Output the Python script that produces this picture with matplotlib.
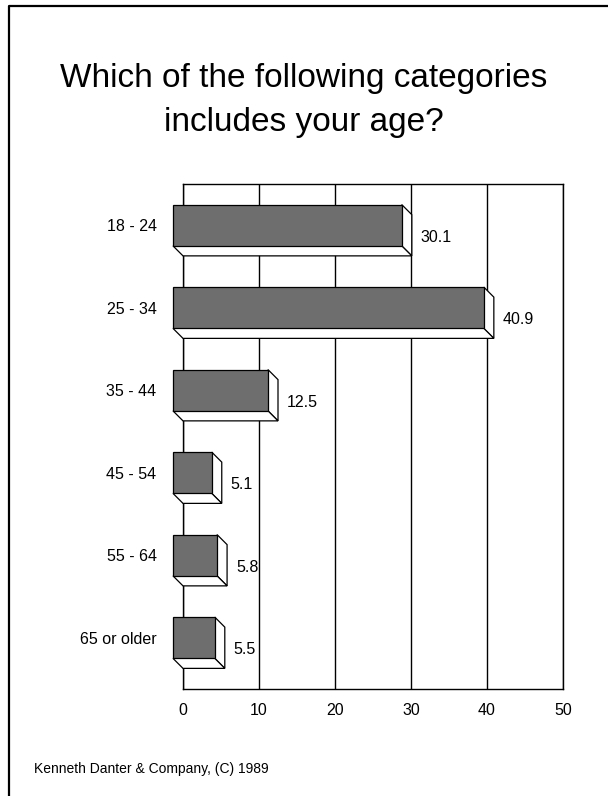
"""Horizontal 3-D style bar chart of survey respondents by age group."""
import matplotlib
matplotlib.use("Agg")
import matplotlib.pyplot as plt
from matplotlib.patches import Polygon
from matplotlib.lines import Line2D

plt.rcParams["font.family"] = ["Liberation Sans", "DejaVu Sans"]

categories = ["18 - 24", "25 - 34", "35 - 44", "45 - 54", "55 - 64", "65 or older"]
values = [30.1, 40.9, 12.5, 5.1, 5.8, 5.5]
x_ticks = [0, 10, 20, 30, 40, 50]

TITLE_1 = "Which of the following categories"
TITLE_2 = "includes your age?"
FOOTER = "Kenneth Danter & Company, (C) 1989"

FACE = "#6e6e6e"
W, H = 608, 796
DEPTH_PX = 10
BAR_H = 0.5


def main() -> None:
    fig = plt.figure(figsize=(W / 100, H / 100), dpi=100)
    ax = fig.add_axes([183 / W, (H - 689) / H, (563 - 183) / W, (689 - 184) / H])

    # depth offset of the bars, converted from pixels to data units
    dx = DEPTH_PX / (380 / (x_ticks[-1] - x_ticks[0]))
    dy = DEPTH_PX / ((689 - 184 - DEPTH_PX) / len(categories))

    ax.set_xlim(x_ticks[0], x_ticks[-1])
    ax.set_ylim(len(categories) - 0.5, -0.5 - dy)
    ax.set_xticks(x_ticks)
    ax.set_yticks([i - dy for i in range(len(categories))])
    ax.set_yticklabels(categories)
    ax.tick_params(length=0, labelsize=11.5, colors="black")
    ax.tick_params(axis="x", pad=10)
    ax.tick_params(axis="y", pad=19)
    for s in ax.spines.values():
        s.set_linewidth(1)
        s.set_color("black")
    for t in x_ticks:
        ax.axvline(t, color="black", lw=1, zorder=1)

    for i, v in enumerate(values):
        top, bot = i - BAR_H / 2 - dy, i + BAR_H / 2 - dy
        left, right = -dx, v - dx
        side = Polygon([(right, top), (right + dx, top + dy), (right + dx, bot + dy), (right, bot)],
                       closed=True, facecolor="white", edgecolor="black", lw=0.9,
                       zorder=4, clip_on=False)
        floor = Polygon([(left, bot), (right, bot), (right + dx, bot + dy), (left + dx, bot + dy)],
                        closed=True, facecolor="white", edgecolor="black", lw=0.9,
                        zorder=4, clip_on=False)
        ax.add_patch(side)
        ax.add_patch(floor)
        ax.barh(i - dy, v, left=-dx, height=BAR_H, color=FACE, edgecolor="black",
                lw=0.9, zorder=5, clip_on=False)
        ax.annotate(f"{v}", (v, i), xytext=(6.5, -1.5), textcoords="offset points",
                    ha="left", va="center", fontsize=11.5)

    fig.text(0.5, 1 - 87 / H, TITLE_1, ha="center", va="baseline", fontsize=24)
    fig.text(0.5, 1 - 131 / H, TITLE_2, ha="center", va="baseline", fontsize=24)
    fig.text(34 / W, 1 - 769 / H, FOOTER, ha="left", va="center", fontsize=10)

    # slide border, top and left edges only
    fig.add_artist(Line2D([9 / W, 9 / W, 1], [0, 1 - 6 / H, 1 - 6 / H],
                          transform=fig.transFigure, color="black", lw=1.6))

    fig.savefig("out.png", dpi=100)


if __name__ == "__main__":
    main()
